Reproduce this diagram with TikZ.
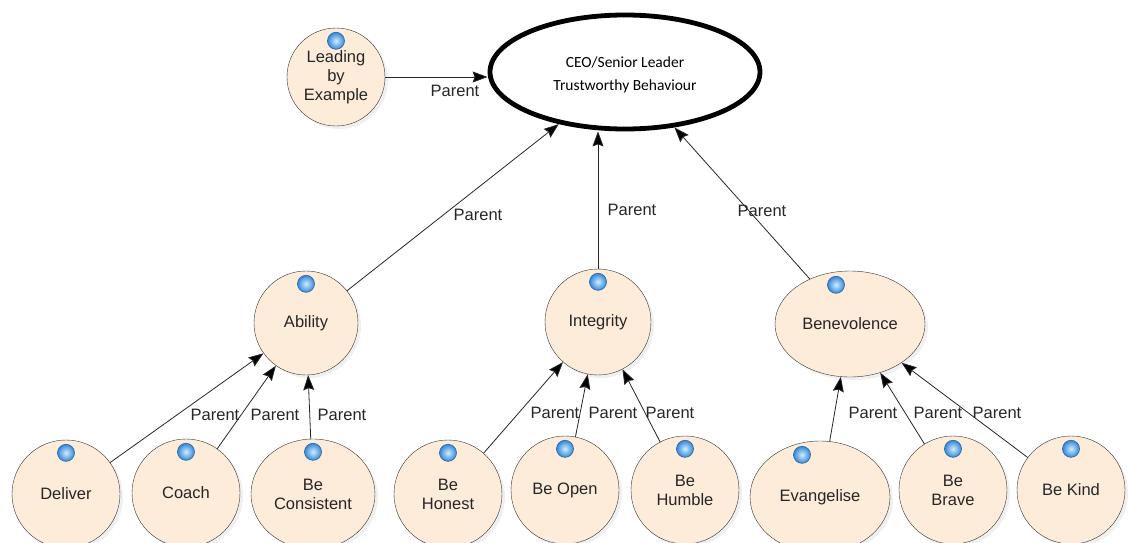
\documentclass[tikz,border=0pt]{standalone}
\usepackage{fontspec}
\setmainfont{Liberation Sans}
\newfontfamily\ceofont{Carlito}
\usetikzlibrary{shapes.geometric,arrows.meta,shadows}
\definecolor{peach}{RGB}{253,236,218}
\definecolor{bulbblue}{RGB}{55,135,215}
\definecolor{bulblight}{RGB}{205,238,252}
\newcommand{\bulbsize}{17pt}

\begin{document}
\begin{tikzpicture}[x=1pt,y=-1pt,
    trait/.style={circle, draw=black!80, fill=peach, minimum size=#1, inner sep=1pt,
      align=center, text=black!85, font=\fontsize{16.5}{19}\selectfont,
      drop shadow={opacity=.12, shadow xshift=3pt, shadow yshift=-3pt}},
    trait/.default=108pt,
    ceobox/.style={ellipse, draw, line width=4.8pt, fill=white, minimum width=270pt,
      minimum height=114pt, align=center, font=\ceofont\fontsize{15.5}{18}\selectfont},
    bulb/.style={circle, inner sep=0pt, minimum size=\bulbsize, draw=bulbblue!80!black,
      line width=.7pt, inner color=bulblight, outer color=bulbblue},
    parent/.style={draw=black!85, line width=.8pt,
      -{Stealth[length=15pt,width=11pt,inset=2pt,fill=black]}},
    lbl/.style={inner sep=1pt, text=black!85, font=\fontsize{16.5}{19}\selectfont}]
  \useasboundingbox (0,0) rectangle (1128,543);

  % top
  \node[trait=98pt] (leading) at (336,77) {Leading\\by\\Example};
  \node[ceobox] (ceo) at (625,72) {\\[-2pt]CEO/Senior Leader\\[5pt]Trustworthy Behaviour};

  % middle
  \node[trait=104pt] (ability) at (306,323) {Ability};
  \node[trait=106pt] (integrity) at (598,322) {Integrity};
  \node[trait, ellipse, minimum width=150pt, minimum height=106pt] (benevolence) at (850,324) {Benevolence};

  % bottom
  \node[trait] (deliver) at (66,494) {Deliver};
  \node[trait] (coach) at (186,493) {Coach};
  \node[trait, ellipse, minimum width=124pt, minimum height=110pt] (consistent) at (313,494) {Be\\Consistent};
  \node[trait] (honest) at (448,494) {Be\\Honest};
  \node[trait] (open) at (565,490) {Be Open};
  \node[trait] (humble) at (685,490) {Be\\Humble};
  \node[trait, ellipse, minimum width=140pt, minimum height=112pt] (evangelise) at (820,497) {Evangelise};
  \node[trait] (brave) at (953,490) {Be\\Brave};
  \node[trait] (kind) at (1071,490) {Be Kind};

  \foreach \n in {leading,ability,integrity,deliver,coach,consistent,honest,open,humble,brave,kind}
    \node[bulb] (bulb\n) at ([yshift=-13pt]\n.north) {};
  \node[bulb] (bulbbenevolence) at ([xshift=-14pt,yshift=-14pt]benevolence.north) {};
  \node[bulb] (bulbevangelise) at ([xshift=-18pt,yshift=-14pt]evangelise.north) {};

  % parent links
  \draw[parent] (leading.east) -- (leading.east -| ceo.west);
  \draw[parent] (ability) -- (ceo);
  \draw[parent] (integrity.north) -- (integrity.north |- ceo.south);
  \draw[parent] (benevolence) -- (ceo);
  \draw[parent] (deliver) -- (ability);
  \draw[parent] (coach) -- (ability);
  \draw[parent] (consistent) -- (ability);
  \draw[parent] (honest) -- (integrity);
  \draw[parent] (open) -- (integrity);
  \draw[parent] (humble) -- (integrity);
  \draw[parent] (evangelise) -- (benevolence);
  \draw[parent] (brave) -- (benevolence);
  \draw[parent] (kind) -- (benevolence);

  \node[lbl] (pleading) at (455,91) {Parent};
  \node[lbl] (pability) at (478,215) {Parent};
  \node[lbl] (pintegrity) at (632,210) {Parent};
  \node[lbl] (pbenevolence) at (762,211) {Parent};
  \node[lbl] (pdeliver) at (215,415) {Parent};
  \node[lbl] (pcoach) at (275,415) {Parent};
  \node[lbl] (pconsistent) at (342,415) {Parent};
  \node[lbl] (phonest) at (555,413) {Parent};
  \node[lbl] (popen) at (613,413) {Parent};
  \node[lbl] (phumble) at (670,413) {Parent};
  \node[lbl] (pevangelise) at (873,413) {Parent};
  \node[lbl] (pbrave) at (938,413) {Parent};
  \node[lbl] (pkind) at (997,413) {Parent};
\end{tikzpicture}
\end{document}
